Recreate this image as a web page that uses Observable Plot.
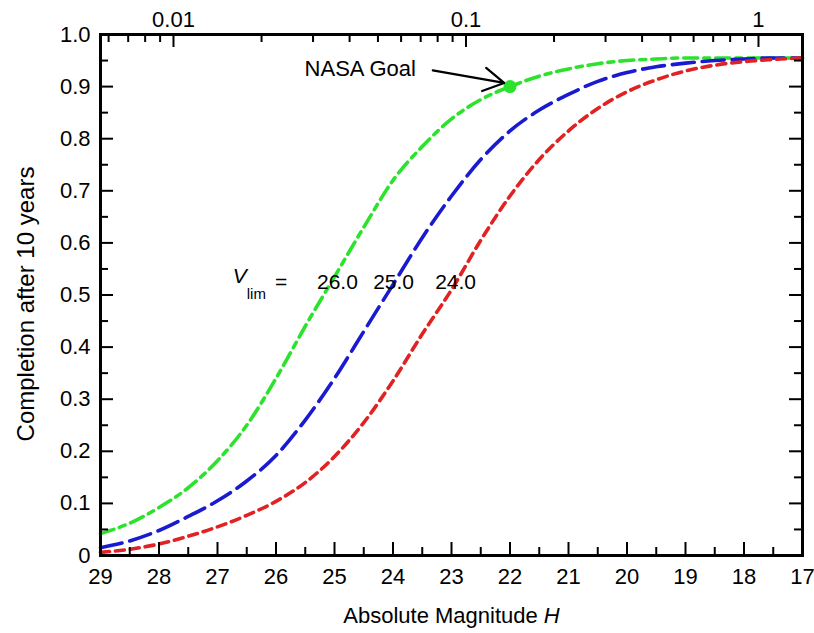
<!DOCTYPE html>
<html><head><meta charset="utf-8">
<script src="https://cdn.jsdelivr.net/npm/d3@7"></script>
<script src="https://cdn.jsdelivr.net/npm/@observablehq/plot@0.6"></script>
<style>
body{margin:0;background:#fff;}
</style></head><body><div id="chart"></div>
<script>
// Absolute magnitude H (x) and completion after 10 years for three limiting magnitudes
const H = [29, 28.5, 28, 27.5, 27, 26.5, 26, 25.5, 25, 24.5, 24, 23.5, 23, 22.5, 22, 21.5, 21, 20.5, 20, 19.5, 19, 18.5, 18, 17.5, 17];
const vlim26 = [0.042, 0.062, 0.092, 0.13, 0.182, 0.25, 0.34, 0.44, 0.535, 0.63, 0.72, 0.785, 0.838, 0.875, 0.90, 0.92, 0.934, 0.944, 0.95, 0.953, 0.955, 0.955, 0.955, 0.955, 0.955];
const vlim25 = [0.015, 0.028, 0.048, 0.075, 0.105, 0.143, 0.192, 0.26, 0.34, 0.43, 0.52, 0.61, 0.69, 0.76, 0.815, 0.855, 0.885, 0.91, 0.927, 0.938, 0.945, 0.95, 0.953, 0.955, 0.955];
const vlim24 = [0.006, 0.012, 0.022, 0.037, 0.055, 0.077, 0.104, 0.14, 0.19, 0.255, 0.335, 0.425, 0.51, 0.605, 0.69, 0.76, 0.815, 0.858, 0.89, 0.913, 0.93, 0.941, 0.948, 0.952, 0.955];
const seriesNames = ["26.0", "25.0", "24.0"];
const seriesColors = ["#2de22d", "#1a1ad0", "#e02222"];
const seriesDash = ["14,6,6,6", "22,8", "9,6"];

// Axis ticks
const xTicksMajor = [29, 28, 27, 26, 25, 24, 23, 22, 21, 20, 19, 18, 17];
const xTicksMinor = [28.5, 27.5, 26.5, 25.5, 24.5, 23.5, 22.5, 21.5, 20.5, 19.5, 18.5, 17.5];
const yTicksMajor = [0, 0.1, 0.2, 0.3, 0.4, 0.5, 0.6, 0.7, 0.8, 0.9, 1.0];
const yTickLabels = ["0", "0.1", "0.2", "0.3", "0.4", "0.5", "0.6", "0.7", "0.8", "0.9", "1.0"];
const yTicksMinor = [0.05, 0.15, 0.25, 0.35, 0.45, 0.55, 0.65, 0.75, 0.85, 0.95];
// Top axis: diameter (km)
const diamMajor = [0.01, 0.1, 1];
const diamMajorLabels = ["0.01", "0.1", "1"];
const diamMinor = [0.006, 0.007, 0.008, 0.009, 0.02, 0.03, 0.04, 0.05, 0.06, 0.07, 0.08, 0.09, 0.2, 0.3, 0.4, 0.5, 0.6, 0.7, 0.8, 0.9];
const albedo = 0.14;

// Annotations
const goalPoint = [{H: 22, v: 0.90}];
const goalLabel = [{H: 24.56, v: 0.933, text: "NASA Goal"}];
const goalArrow = [{H1: 23.32, v1: 0.931, H2: 22.1, v2: 0.907}];
const vlimLabel = [{H: 26.74, v: 0.524, text: "Vlim ="}];
const vlimValuePos = [24.95, 23.99, 22.93];
const vlimValueY = 0.524;

const hOfD = d => 5 * Math.log10(1329 / Math.sqrt(albedo)) - 5 * Math.log10(d);

const rows = [];
[vlim26, vlim25, vlim24].forEach((arr, i) => arr.forEach((v, j) => rows.push({H: H[j], v, s: seriesNames[i]})));
const vlimTexts = seriesNames.map((s, i) => ({H: vlimValuePos[i], v: vlimValueY, text: s}));

const W = 814, HT = 633, mL = 100, mR = 12, mT = 34, mB = 78;
const fw = W - mL - mR, fh = HT - mT - mB;
const font = "'Liberation Sans', Arial, Helvetica, sans-serif";
const FS = 22;

const marks = [];
seriesNames.forEach((s, i) => {
  marks.push(Plot.line(rows.filter(r => r.s === s), {x: "H", y: "v", stroke: seriesColors[i], strokeWidth: 3.6, strokeDasharray: seriesDash[i], curve: "monotone-x"}));
});
marks.push(
  Plot.frame({stroke: "black", strokeWidth: 3}),
  // inward tick marks
  Plot.ruleX(xTicksMajor, {x: d => d, insetTop: fh - 13, stroke: "black", strokeWidth: 2}),
  Plot.ruleX(xTicksMinor, {x: d => d, insetTop: fh - 8, stroke: "black", strokeWidth: 2}),
  Plot.ruleX(diamMajor.map(hOfD), {x: d => d, insetBottom: fh - 13, stroke: "black", strokeWidth: 2}),
  Plot.ruleX(diamMinor.map(hOfD), {x: d => d, insetBottom: fh - 8, stroke: "black", strokeWidth: 2}),
  Plot.ruleY(yTicksMajor, {y: d => d, insetRight: fw - 13, stroke: "black", strokeWidth: 2}),
  Plot.ruleY(yTicksMinor, {y: d => d, insetRight: fw - 8, stroke: "black", strokeWidth: 2}),
  Plot.ruleY(yTicksMajor, {y: d => d, insetLeft: fw - 13, stroke: "black", strokeWidth: 2}),
  Plot.ruleY(yTicksMinor, {y: d => d, insetLeft: fw - 8, stroke: "black", strokeWidth: 2}),
  // axis labels
  Plot.axisX({anchor: "bottom", ticks: xTicksMajor, tickSize: 0, tickPadding: 13, tickFormat: d => String(d), label: null, fontSize: FS}),
  Plot.axisX({anchor: "top", ticks: diamMajor.map(hOfD), tickSize: 0, tickPadding: 8, tickFormat: (d, i) => diamMajorLabels[i], label: null, fontSize: FS}),
  Plot.axisY({anchor: "left", ticks: yTicksMajor, tickSize: 0, tickPadding: 10, tickFormat: (d, i) => yTickLabels[i], label: null, fontSize: FS}),
  Plot.text(["Absolute Magnitude H"], {frameAnchor: "bottom", dy: 67, fontSize: FS, fill: "black"}),
  Plot.text(["Completion after 10 years"], {frameAnchor: "left", dx: -74, dy: 9, rotate: -90, textAnchor: "middle", fontSize: 24, fill: "black"}),
  // annotations
  Plot.dot(goalPoint, {x: "H", y: "v", r: 6.5, fill: seriesColors[0]}),
  Plot.arrow(goalArrow, {x1: "H1", y1: "v1", x2: "H2", y2: "v2", stroke: "black", strokeWidth: 2.2, headLength: 16, bend: 0}),
  Plot.text(goalLabel, {x: "H", y: "v", text: "text", fontSize: 22, fill: "black"}),
  Plot.text(vlimLabel, {x: "H", y: "v", text: "text", textAnchor: "start", fontSize: 21, fill: "black"}),
  Plot.text(vlimTexts, {x: "H", y: "v", text: "text", fontSize: 21, fill: "black"})
);

const chart = Plot.plot({
  width: W, height: HT,
  marginLeft: mL, marginRight: mR, marginTop: mT, marginBottom: mB,
  x: {domain: [29, 17], axis: null},
  y: {domain: [0, 1], axis: null},
  style: {fontFamily: font, fontSize: FS + "px", background: "white", color: "black"},
  marks
});

const ns = "http://www.w3.org/2000/svg";
function rich(el, parts) {
  el.textContent = "";
  for (const p of parts) {
    const t = document.createElementNS(ns, "tspan");
    t.textContent = p.text;
    for (const k in (p.attrs || {})) t.setAttribute(k, p.attrs[k]);
    el.appendChild(t);
  }
}
chart.querySelectorAll("text").forEach(el => {
  if (el.textContent === "Absolute Magnitude H") {
    rich(el, [{text: "Absolute Magnitude "}, {text: "H", attrs: {"font-style": "italic"}}]);
  } else if (el.textContent === "Vlim =") {
    rich(el, [
      {text: "V", attrs: {"font-style": "italic", "dy": "-6"}},
      {text: "lim", attrs: {"font-size": "15", "dy": "16"}},
      {text: "=", attrs: {"dx": "9", "dy": "-10"}}
    ]);
  }
});
document.getElementById("chart").appendChild(chart);
</script>
</body></html>
